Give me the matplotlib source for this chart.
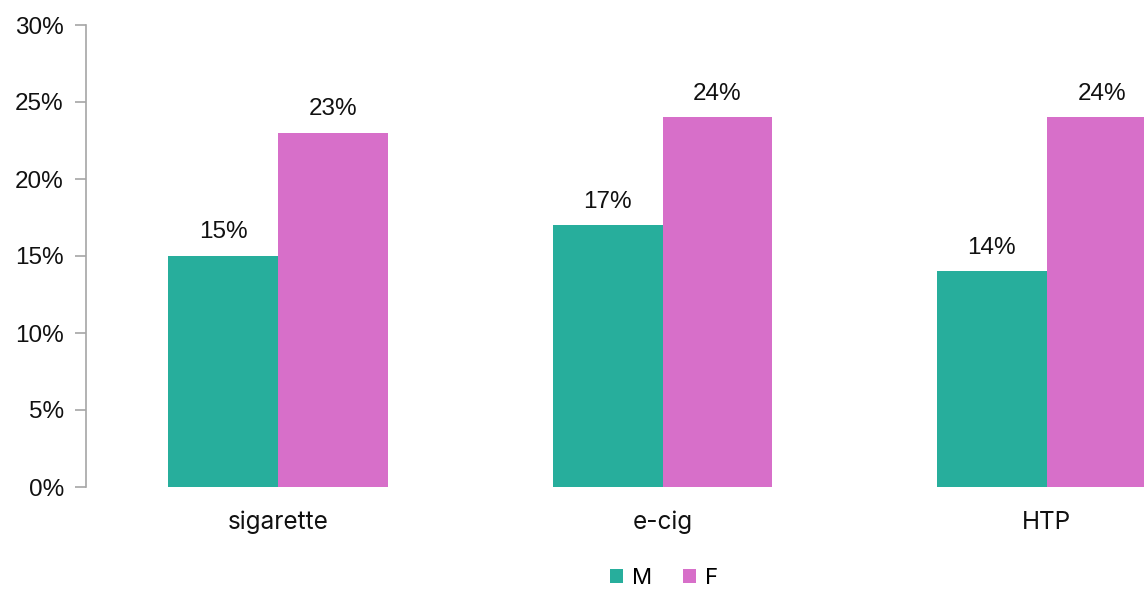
import matplotlib
matplotlib.use("Agg")
import matplotlib.pyplot as plt
import numpy as np
from matplotlib.ticker import FuncFormatter

categories = ["sigarette", "e-cig", "HTP"]
male = [15, 17, 14]
female = [23, 24, 24]
series_names = ["M", "F"]

teal = "#27AE9C"
pink = "#D76FC9"

plt.rcParams['font.family'] = ['Liberation Sans', 'DejaVu Sans']

fig = plt.figure(figsize=(11.44, 5.89), dpi=100)
# plot area runs past the right edge of the picture, as in the original
ax = fig.add_axes([86/1144, 102/589, 1153/1144, 462/589])

x = np.arange(len(categories))
w = 0.286
b1 = ax.bar(x - w/2, male, w, color=teal, label=series_names[0])
b2 = ax.bar(x + w/2, female, w, color=pink, label=series_names[1])

for bars in (b1, b2):
    for r in bars:
        ax.annotate(f"{r.get_height():.0f}%",
                    (r.get_x() + r.get_width()/2, r.get_height()),
                    xytext=(0, 9), textcoords="offset points",
                    ha="center", va="bottom", fontsize=17.5, color="#111111")

ax.set_ylim(0, 30)
ax.set_xlim(-0.5, 2.5)
ax.set_yticks(range(0, 31, 5))
ax.yaxis.set_major_formatter(FuncFormatter(lambda v, p: f"{v:.0f}%"))
ax.tick_params(axis="y", labelsize=17.5, length=8, width=1.2, color="#a6a6a6",
               pad=8, labelcolor="#111111")
ax.set_xticks(x)
ax.set_xticklabels(categories, fontsize=17.5, color="#111111", family=["Inter", "DejaVu Sans"])
ax.tick_params(axis="x", length=0, pad=17)

for s in ("top", "right", "bottom"):
    ax.spines[s].set_visible(False)
ax.spines["left"].set_color("#a6a6a6")
ax.spines["left"].set_linewidth(1.2)

fig.legend(loc="lower center", bbox_to_anchor=(664/1144, -0.032), ncol=2,
           frameon=False, handlelength=0.6, handleheight=0.6,
           handletextpad=0.4, columnspacing=1.4,
           prop={"family": ["Inter", "DejaVu Sans"], "size": 16})

fig.savefig("out.png", dpi=100)
